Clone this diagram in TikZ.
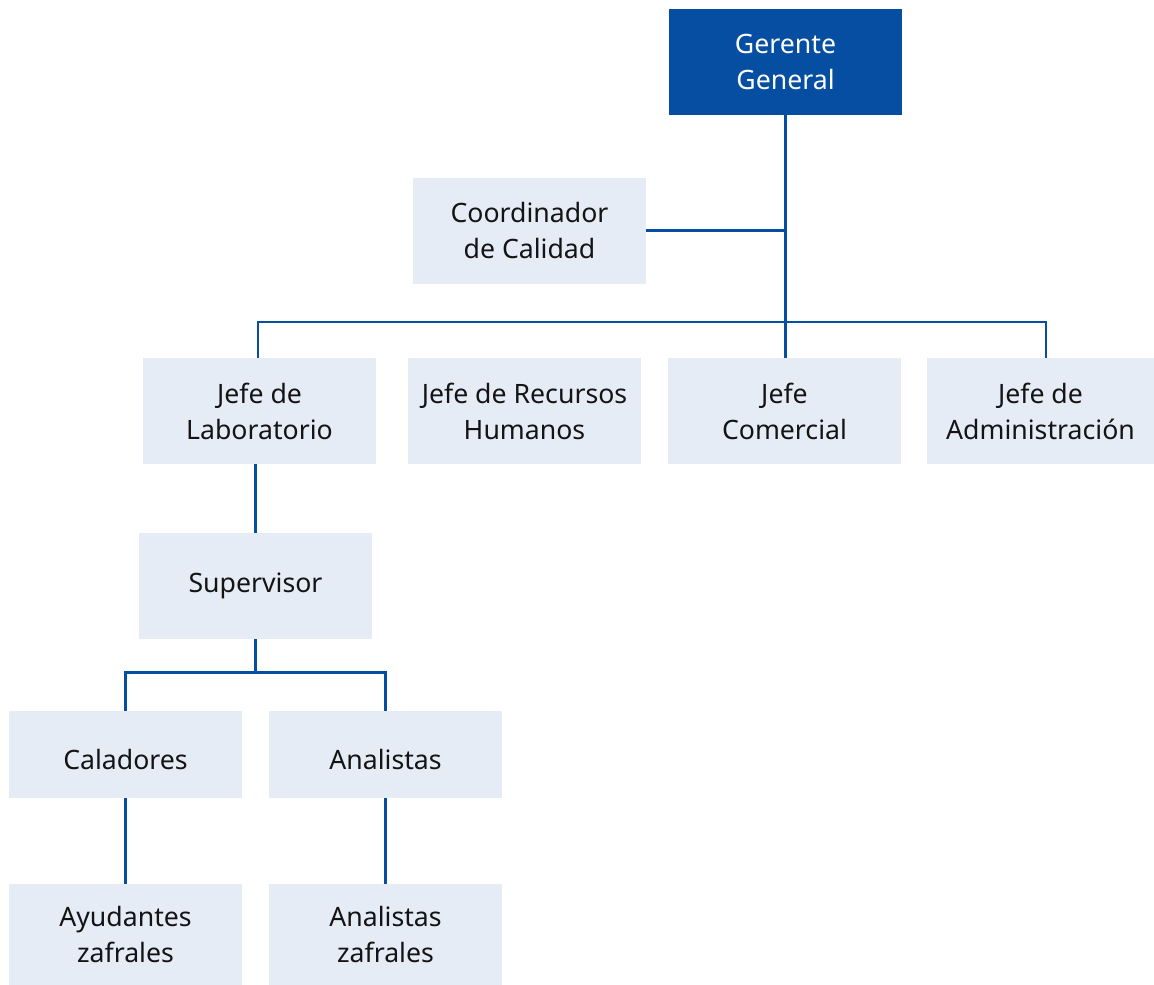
\documentclass[tikz,border=0pt]{standalone}
\usepackage{fontspec}
\setmainfont{Noto Sans}
\definecolor{azul}{RGB}{5,78,162}
\definecolor{celeste}{RGB}{230,236,246}
\definecolor{texto}{RGB}{20,20,20}
\tikzset{
    caja/.style={fill=celeste, text=texto, minimum width=233*0.75pt, minimum height=106*0.75pt,
        inner sep=0pt, align=center, font=\fontsize{20}{27}\selectfont},
    jefe/.style={caja, fill=azul, text=white},
    bajo/.style={caja, minimum height=87*0.75pt, text height=22pt, text depth=0pt},
    linea/.style={azul, line width=2.2pt}
}
\begin{document}
\begin{tikzpicture}[x=0.75pt,y=-0.75pt]
        \useasboundingbox (0,0) rectangle (1154,985);

        % Cajas
        \node[jefe] (gerente) at (785.5,62) {Gerente\\General};
        \node[caja] (calidad) at (529.5,230.5) {Coordinador\\de Calidad};
        \node[caja] (laboratorio) at (259.5,411) {Jefe de\\Laboratorio};
        \node[caja] (rrhh) at (524.5,411) {Jefe de Recursos\\Humanos};
        \node[caja] (comercial) at (784.5,411) {Jefe\\Comercial};
        \node[caja, minimum width=227*0.75pt] (admin) at (1040.5,411) {Jefe de\\Administración};
        \node[caja] (supervisor) at (255.5,586) {Supervisor};
        \node[bajo] (caladores) at (125.5,754.5) {Caladores};
        \node[bajo] (analistas) at (385.5,754.5) {Analistas};
        \node[caja, minimum height=101*0.75pt] (ayudantes) at (125.5,934.5) {Ayudantes\\zafrales};
        \node[caja, minimum height=101*0.75pt] (zafrales) at (385.5,934.5) {Analistas\\zafrales};

        % Puntos de union
        \coordinate (barra) at (785.5,322);
        \coordinate (rama) at (255.5,672.5);

        % Conectores
        \draw[linea] (gerente.south) -- (gerente.south |- comercial.north);
        \draw[linea] (calidad.east) -- (calidad.east -| gerente.south);
        \draw[linea] ([xshift=-1.5*0.75pt]laboratorio.north) |- (barra) -| ([xshift=5.5*0.75pt]admin.north);
        \draw[linea] (supervisor.north |- laboratorio.south) -- (supervisor.north);
        \draw[linea] (supervisor.south) -- (rama);
        \draw[linea] (caladores.north) |- (rama) -| (analistas.north);
        \draw[linea] (caladores.south) -- (ayudantes.north);
        \draw[linea] (analistas.south) -- (zafrales.north);
    \end{tikzpicture}
\end{document}
